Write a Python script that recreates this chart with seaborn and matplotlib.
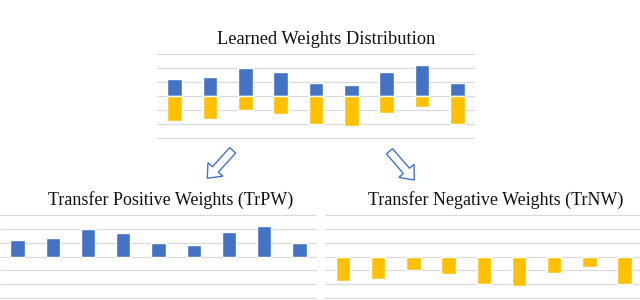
import matplotlib
matplotlib.use("Agg")
import matplotlib.pyplot as plt
import matplotlib.patches as mpatches
import seaborn as sns
import pandas as pd

# ---- data ----
categories = ["1", "2", "3", "4", "5", "6", "7", "8", "9"]
positive_weights = [1.24, 1.35, 1.99, 1.72, 0.98, 0.84, 1.76, 2.21, 0.98]
negative_weights = [-1.77, -1.64, -1.0, -1.25, -2.0, -2.15, -1.22, -0.77, -2.0]

title_top = "Learned Weights Distribution"
title_left = "Transfer Positive Weights (TrPW)"
title_right = "Transfer Negative Weights (TrNW)"

BLUE = "#4472C4"
YELLOW = "#FFC000"
GRID = "#D9D9D9"

sns.set_theme(style="white")
plt.rcParams["font.family"] = ["Liberation Serif", "DejaVu Serif"]

W, H = 640, 300
fig = plt.figure(figsize=(W / 100, H / 100), dpi=100)

df = pd.DataFrame({"cat": categories, "pos": positive_weights, "neg": negative_weights})


def px_axes(x0, x1, y_top, y_bot, pad=0.1):
    # y_top / y_bot are pixel rows of the +3 and -3 gridlines
    unit = (y_bot - y_top) / 6.0
    top = y_top - pad * unit
    bot = y_bot + pad * unit
    return fig.add_axes([x0 / W, 1 - bot / H, (x1 - x0) / W, (bot - top) / H])


def style(ax):
    ax.set_ylim(-3.1, 3.1)
    ax.set_xlim(-0.5, 8.5)
    ax.set_yticks(range(-3, 4))
    ax.grid(axis="y", color=GRID, linewidth=0.9)
    ax.grid(axis="x", visible=False)
    ax.set_axisbelow(True)
    for s in ax.spines.values():
        s.set_visible(False)
    ax.set_xticks([])
    ax.tick_params(axis="y", length=0, labelleft=False)
    ax.set_xlabel("")
    ax.set_ylabel("")


# top chart
ax_top = px_axes(157, 475, 54.3, 138.3)
sns.barplot(data=df, x="cat", y="pos", color=BLUE, width=0.41, saturation=1, ax=ax_top)
sns.barplot(data=df, x="cat", y="neg", color=YELLOW, width=0.41, saturation=1, ax=ax_top)
style(ax_top)

# bottom left
ax_l = px_axes(0, 317, 215.3, 298)
sns.barplot(data=df, x="cat", y="pos", color=BLUE, width=0.41, saturation=1, ax=ax_l)
style(ax_l)

# bottom right
ax_r = px_axes(325.4, 642.3, 215.3, 298)
sns.barplot(data=df, x="cat", y="neg", color=YELLOW, width=0.41, saturation=1, ax=ax_r)
style(ax_r)

# titles
fig.text(326 / W, 1 - 44.3 / H, title_top, ha="center", va="baseline", fontsize=13.2, color="#111111")
fig.text(171 / W, 1 - 205 / H, title_left, ha="center", va="baseline", fontsize=13, color="#111111")
fig.text(496 / W, 1 - 205 / H, title_right, ha="center", va="baseline", fontsize=13, color="#111111")

# arrows overlay
ov = fig.add_axes([0, 0, 1, 1], zorder=-1)
ov.set_xlim(0, W)
ov.set_ylim(H, 0)
ov.axis("off")
for (x0, y0, x1, y1) in [(232.7, 150.3, 207.3, 178.3), (389.5, 151.3, 414.3, 180.0)]:
    arr = mpatches.FancyArrow(x0, y0, x1 - x0, y1 - y0, width=8, head_width=20,
                              head_length=12, length_includes_head=True,
                              facecolor="white", edgecolor=BLUE, linewidth=1.0)
    ov.add_patch(arr)

fig.savefig("out.png", dpi=100)
